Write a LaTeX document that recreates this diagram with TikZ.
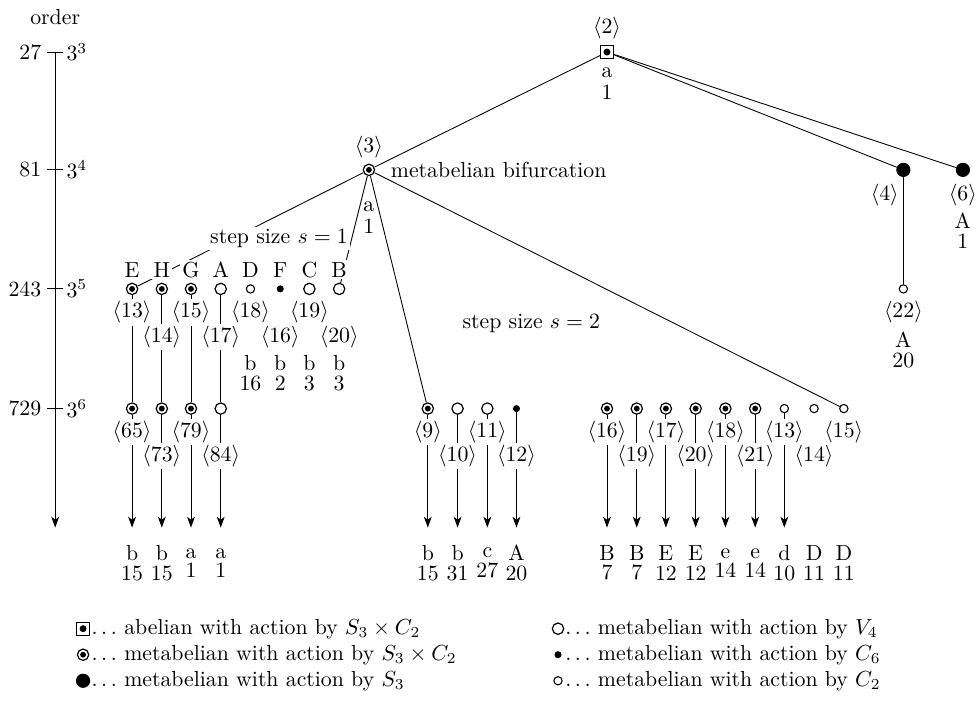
\documentclass[tikz,border=0pt]{standalone}
\usetikzlibrary{arrows.meta}
\begin{document}
\begin{tikzpicture}[
    >={Stealth[length=5pt,width=3.6pt,inset=1.4pt]},
    ab/.style={draw, rectangle, fill=white, minimum size=5.9pt, inner sep=0pt, line width=0.5pt,
      path picture={\fill[black] (path picture bounding box.center) circle (1.6pt);}},
    mb/.style={draw, circle, fill=white, minimum size=5.2pt, inner sep=0pt, line width=0.55pt,
      path picture={\fill[black] (path picture bounding box.center) circle (1.35pt);}},
    sd/.style={draw, circle, fill, minimum size=6.1pt, inner sep=0pt},
    vf/.style={draw, circle, fill=white, minimum size=5.2pt, inner sep=0pt, line width=0.55pt},
    cs/.style={draw, circle, fill, minimum size=2.8pt, inner sep=0pt},
    ct/.style={draw, circle, fill=white, minimum size=3.8pt, inner sep=0pt, line width=0.5pt},
    lab/.style={fill=white, inner sep=1pt},
    inv/.style={align=center, inner sep=1pt},
    key/.style={anchor=west, inner sep=0pt, text height=7pt, text depth=2pt}
]
    \useasboundingbox (0,0) rectangle (15.79,11.32);

    % 绘制阶数坐标轴
    \node (ord) at (0.89,11.05) {order};
    \coordinate (axtop) at (0.89,10.48);
    \coordinate (axbot) at (0.89,2.81);
    \draw[->] (axtop) -- (axbot);
    \draw (0.76,10.48) -- (1.02,10.48); % 27
    \draw (0.76,8.58) -- (1.02,8.58);   % 81
    \draw (0.76,6.66) -- (1.02,6.66);   % 243
    \draw (0.76,4.73) -- (1.02,4.73);   % 729
    \node[anchor=east] (o27) at (0.79,10.48) {27};
    \node[anchor=east] (o81) at (0.79,8.58) {81};
    \node[anchor=east] (o243) at (0.79,6.66) {243};
    \node[anchor=east] (o729) at (0.79,4.73) {729};
    \node[anchor=west] (e3) at (0.95,10.48) {$3^3$};
    \node[anchor=west] (e4) at (0.95,8.58) {$3^4$};
    \node[anchor=west] (e5) at (0.95,6.66) {$3^5$};
    \node[anchor=west] (e6) at (0.95,4.73) {$3^6$};

    % 根和第二层的顶点
    \node[ab] (v2) at (9.79,10.48) {};
    \node[mb] (v3) at (5.95,8.58) {};
    \node[sd] (v4) at (14.57,8.58) {};
    \node[sd] (v6) at (15.53,8.58) {};
    \node[ct] (v22) at (14.57,6.66) {};

    % 第三层 (243) 的顶点
    \node[mb] (u13) at (2.13,6.66) {};
    \node[mb] (u14) at (2.61,6.66) {};
    \node[mb] (u15) at (3.08,6.66) {};
    \node[vf] (u17) at (3.56,6.66) {};
    \node[ct] (u18) at (4.04,6.66) {};
    \node[cs] (u16) at (4.52,6.66) {};
    \node[vf] (u19) at (4.99,6.66) {};
    \node[vf] (u20) at (5.47,6.66) {};

    % 第四层 (729) 的顶点
    \node[mb] (w65) at (2.13,4.73) {};
    \node[mb] (w73) at (2.61,4.73) {};
    \node[mb] (w79) at (3.08,4.73) {};
    \node[vf] (w84) at (3.56,4.73) {};
    \node[mb] (p9) at (6.90,4.73) {};
    \node[vf] (p10) at (7.38,4.73) {};
    \node[vf] (p11) at (7.86,4.73) {};
    \node[cs] (p12) at (8.33,4.73) {};
    \node[mb] (q16) at (9.79,4.73) {};
    \node[mb] (q19) at (10.27,4.73) {};
    \node[mb] (q17) at (10.74,4.73) {};
    \node[mb] (q20) at (11.22,4.73) {};
    \node[mb] (q18) at (11.70,4.73) {};
    \node[mb] (q21) at (12.18,4.73) {};
    \node[ct] (q13) at (12.65,4.73) {};
    \node[ct] (q14) at (13.13,4.73) {};
    \node[ct] (q15) at (13.61,4.73) {};

    % 箭头的终点
    \coordinate (f65) at (2.13,2.81);
    \coordinate (f73) at (2.61,2.81);
    \coordinate (f79) at (3.08,2.81);
    \coordinate (f84) at (3.56,2.81);
    \coordinate (f9) at (6.90,2.81);
    \coordinate (f10) at (7.38,2.81);
    \coordinate (f11) at (7.86,2.81);
    \coordinate (f12) at (8.33,2.81);
    \coordinate (g16) at (9.79,2.81);
    \coordinate (g19) at (10.27,2.81);
    \coordinate (g17) at (10.74,2.81);
    \coordinate (g20) at (11.22,2.81);
    \coordinate (g18) at (11.70,2.81);
    \coordinate (g21) at (12.18,2.81);
    \coordinate (g13) at (12.65,2.81);

    % 树的边
    \draw (v2) -- (v3);
    \draw (v2) -- (v4);
    \draw (v2) -- (v6);
    \draw (v4) -- (v22);
    \draw (v3) -- (u13);
    \draw (v3) -- (u20);
    \draw (v3) -- (p9);
    \draw (v3) -- (q15);
    \draw (u13) -- (w65);
    \draw (u14) -- (w73);
    \draw (u15) -- (w79);
    \draw (u17) -- (w84);

    % 向下的箭头
    \draw[->] (w65) -- (f65);
    \draw[->] (w73) -- (f73);
    \draw[->] (w79) -- (f79);
    \draw[->] (w84) -- (f84);
    \draw[->] (p9) -- (f9);
    \draw[->] (p10) -- (f10);
    \draw[->] (p11) -- (f11);
    \draw[->] (p12) -- (f12);
    \draw[->] (q16) -- (g16);
    \draw[->] (q19) -- (g19);
    \draw[->] (q17) -- (g17);
    \draw[->] (q20) -- (g20);
    \draw[->] (q18) -- (g18);
    \draw[->] (q21) -- (g21);
    \draw[->] (q13) -- (g13);

    % 上面顶点的标号
    \node (l2) at (9.79,10.87) {$\langle 2\rangle$};
    \node[inv] (t2) at (9.79,9.97) {a\\[-2pt]1};
    \node (l3) at (5.95,8.95) {$\langle 3\rangle$};
    \node[anchor=west] (bif) at (6.18,8.58) {metabelian bifurcation};
    \node[inv] (t3) at (5.95,7.81) {a\\[-2pt]1};
    \node[lab] (l4) at (14.27,8.18) {$\langle 4\rangle$};
    \node (l6) at (15.53,8.18) {$\langle 6\rangle$};
    \node[inv] (t6) at (15.53,7.6) {A\\[-3pt]1};
    \node[lab] (l22) at (14.57,6.28) {$\langle 22\rangle$};
    \node[inv] (t22) at (14.57,5.68) {A\\[-3pt]20};
    \node[lab] (s1) at (4.5,7.48) {step size $s=1$};
    \node (s2) at (8.57,6.11) {step size $s=2$};

    % 第三层的字母和标号
    \node[lab] (nE) at (2.13,6.97) {E};
    \node[lab] (nH) at (2.61,6.97) {H};
    \node[lab] (nG) at (3.08,6.97) {G};
    \node[lab] (nA) at (3.56,6.97) {A};
    \node[lab] (nD) at (4.04,6.97) {D};
    \node[lab] (nF) at (4.52,6.97) {F};
    \node[lab] (nC) at (4.99,6.97) {C};
    \node[lab] (nB) at (5.47,6.97) {B};
    \node[lab] (l13) at (2.13,6.28) {$\langle 13\rangle$};
    \node[lab] (l14) at (2.61,5.89) {$\langle 14\rangle$};
    \node[lab] (l15) at (3.08,6.28) {$\langle 15\rangle$};
    \node[lab] (l17) at (3.56,5.89) {$\langle 17\rangle$};
    \node[lab] (l18) at (4.04,6.28) {$\langle 18\rangle$};
    \node[lab] (l16) at (4.52,5.89) {$\langle 16\rangle$};
    \node[lab] (l19) at (4.99,6.28) {$\langle 19\rangle$};
    \node[lab] (l20) at (5.47,5.89) {$\langle 20\rangle$};
    \node[inv] (t18) at (4.04,5.3) {b\\[-3pt]16};
    \node[inv] (t16) at (4.52,5.3) {b\\[-3pt]2};
    \node[inv] (t19) at (4.99,5.3) {b\\[-3pt]3};
    \node[inv] (t20) at (5.47,5.3) {b\\[-3pt]3};

    % 第四层的标号
    \node[lab] (l65) at (2.13,4.35) {$\langle 65\rangle$};
    \node[lab] (l73) at (2.61,3.97) {$\langle 73\rangle$};
    \node[lab] (l79) at (3.08,4.35) {$\langle 79\rangle$};
    \node[lab] (l84) at (3.56,3.97) {$\langle 84\rangle$};
    \node[lab] (l9) at (6.90,4.35) {$\langle 9\rangle$};
    \node[lab] (l10) at (7.38,3.97) {$\langle 10\rangle$};
    \node[lab] (l11) at (7.86,4.35) {$\langle 11\rangle$};
    \node[lab] (l12) at (8.33,3.97) {$\langle 12\rangle$};
    \node[lab] (m16) at (9.79,4.35) {$\langle 16\rangle$};
    \node[lab] (m19) at (10.27,3.97) {$\langle 19\rangle$};
    \node[lab] (m17) at (10.74,4.35) {$\langle 17\rangle$};
    \node[lab] (m20) at (11.22,3.97) {$\langle 20\rangle$};
    \node[lab] (m18) at (11.70,4.35) {$\langle 18\rangle$};
    \node[lab] (m21) at (12.18,3.97) {$\langle 21\rangle$};
    \node[lab] (m13) at (12.65,4.35) {$\langle 13\rangle$};
    \node[lab] (m14) at (13.13,3.97) {$\langle 14\rangle$};
    \node[lab] (m15) at (13.61,4.35) {$\langle 15\rangle$};

    % 箭头下面的不变量
    \node[inv] (t65) at (2.13,2.24) {b\\[-3pt]15};
    \node[inv] (t73) at (2.61,2.24) {b\\[-3pt]15};
    \node[inv] (t79) at (3.08,2.24) {a\\[-3pt]1};
    \node[inv] (t84) at (3.56,2.24) {a\\[-3pt]1};
    \node[inv] (t9) at (6.90,2.24) {b\\[-3pt]15};
    \node[inv] (t10) at (7.38,2.24) {b\\[-3pt]31};
    \node[inv] (t11) at (7.86,2.24) {c\\[-3pt]27};
    \node[inv] (t12) at (8.33,2.24) {A\\[-3pt]20};
    \node[inv] (r16) at (9.79,2.24) {B\\[-3pt]7};
    \node[inv] (r19) at (10.27,2.24) {B\\[-3pt]7};
    \node[inv] (r17) at (10.74,2.24) {E\\[-3pt]12};
    \node[inv] (r20) at (11.22,2.24) {E\\[-3pt]12};
    \node[inv] (r18) at (11.70,2.24) {e\\[-3pt]14};
    \node[inv] (r21) at (12.18,2.24) {e\\[-3pt]14};
    \node[inv] (r13) at (12.65,2.24) {d\\[-3pt]10};
    \node[inv] (r14) at (13.13,2.24) {D\\[-3pt]11};
    \node[inv] (r15) at (13.61,2.24) {D\\[-3pt]11};

    % 图例
    \node[ab] (k1) at (1.34,1.18) {};
    \node[mb] (k2) at (1.34,0.76) {};
    \node[sd] (k3) at (1.34,0.34) {};
    \node[vf] (k4) at (9.0,1.18) {};
    \node[cs] (k5) at (9.0,0.76) {};
    \node[ct] (k6) at (9.0,0.34) {};
    \node[key] (k1t) at (1.47,1.18) {$\ldots$ abelian with action by $S_3\times C_2$};
    \node[key] (k2t) at (1.47,0.76) {$\ldots$ metabelian with action by $S_3\times C_2$};
    \node[key] (k3t) at (1.47,0.34) {$\ldots$ metabelian with action by $S_3$};
    \node[key] (k4t) at (9.11,1.18) {$\ldots$ metabelian with action by $V_4$};
    \node[key] (k5t) at (9.11,0.76) {$\ldots$ metabelian with action by $C_6$};
    \node[key] (k6t) at (9.11,0.34) {$\ldots$ metabelian with action by $C_2$};

\end{tikzpicture}
\end{document}
